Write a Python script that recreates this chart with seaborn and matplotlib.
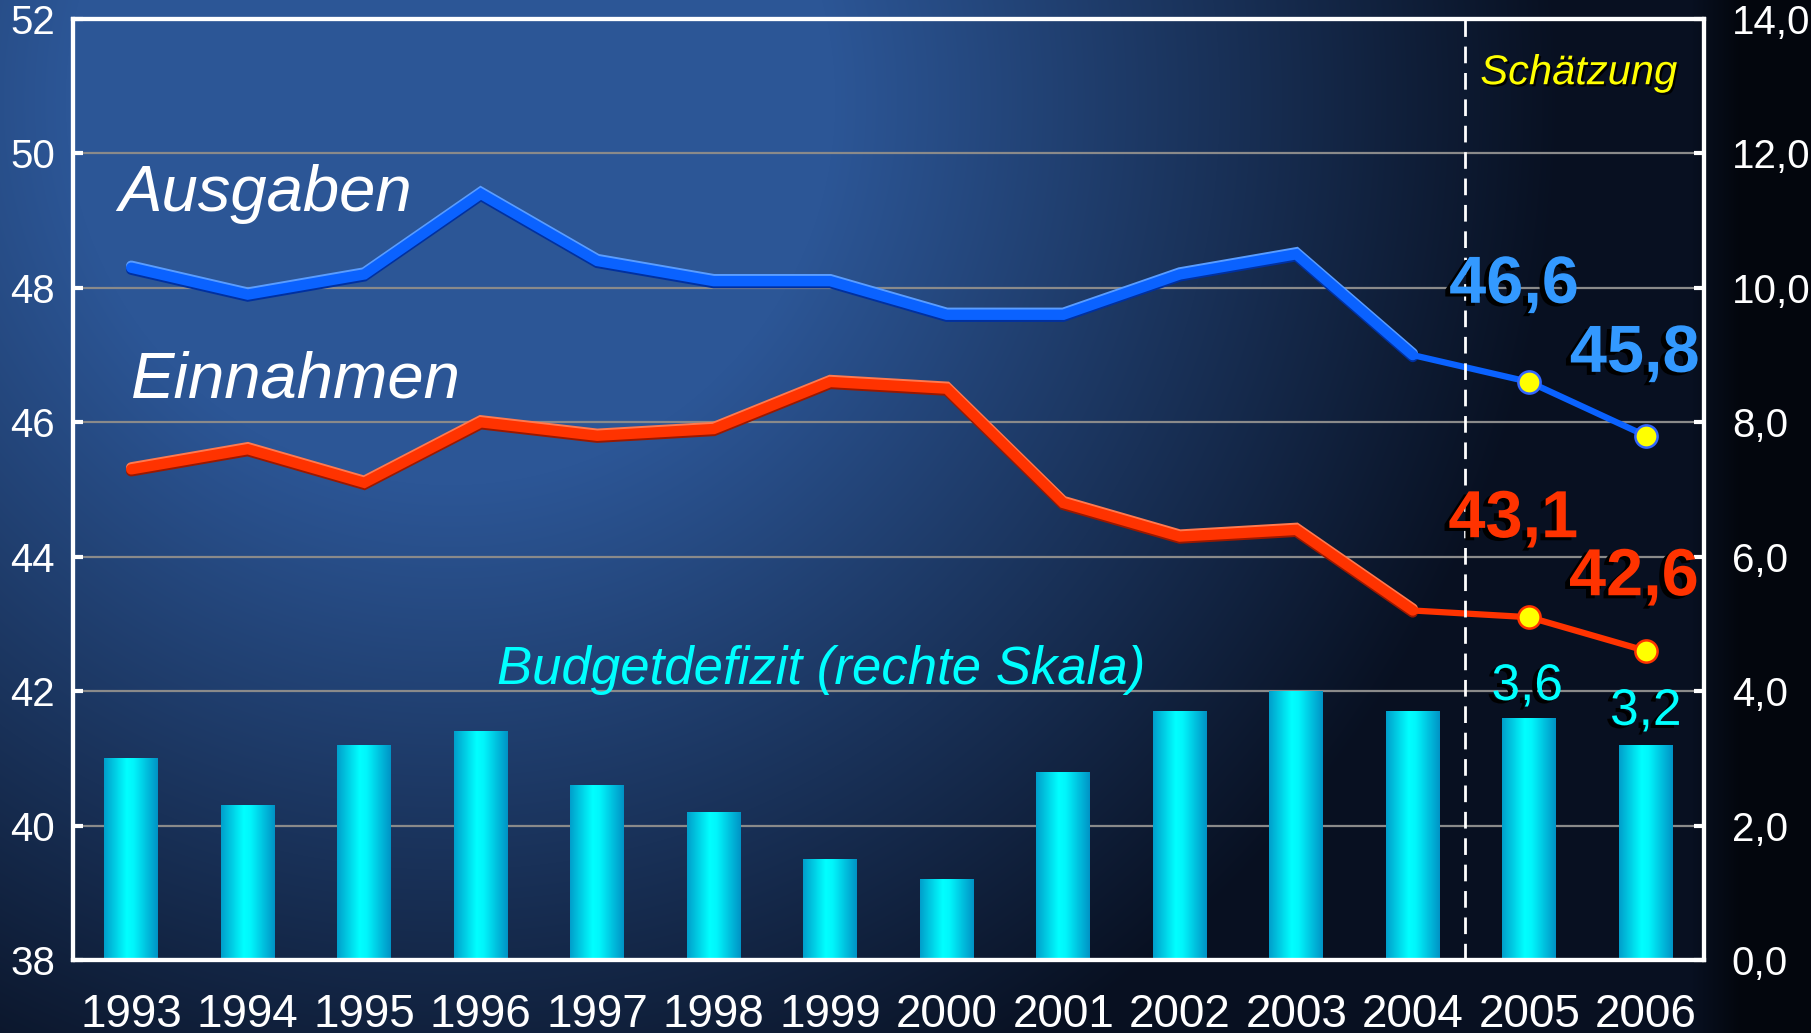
import numpy as np
import matplotlib
matplotlib.use("Agg")
import matplotlib.pyplot as plt
import matplotlib.patheffects as pe
from matplotlib.colors import LinearSegmentedColormap
from matplotlib.ticker import FuncFormatter, MultipleLocator
import seaborn as sns

# --- Data (Staatsausgaben / -einnahmen in % des BIP, Defizit rechte Skala) ---
years = [str(y) for y in range(1993, 2007)]
ausgaben = [48.3, 47.9, 48.2, 49.4, 48.4, 48.1, 48.1, 47.6, 47.6, 48.2, 48.5, 47.0, 46.6, 45.8]
einnahmen = [45.3, 45.6, 45.1, 46.0, 45.8, 45.9, 46.6, 46.5, 44.8, 44.3, 44.4, 43.2, 43.1, 42.6]
defizit = [3.0, 2.3, 3.2, 3.4, 2.6, 2.2, 1.5, 1.2, 2.8, 3.7, 4.0, 3.7, 3.6, 3.2]
n_actual = 12  # 1993-2004 Ist, 2005-2006 Schätzung

BLUE, BLUE_HI, BLUE_LO, BLUE_LBL = "#0a62ff", "#5a9dff", "#0030a0", "#3399ff"
RED, RED_HI, RED_LO = "#ff3300", "#ff7a50", "#9a1800"
CYAN = "#00ffff"


def comma(v):
    return f"{v:.1f}".replace(".", ",")


sns.set_style("dark")
plt.rcParams["font.family"] = ["Liberation Sans", "DejaVu Sans"]

W, H = 1811, 1033
fig = plt.figure(figsize=(W / 100, H / 100), dpi=100)

# background gradient
yy, xx = np.mgrid[0:H, 0:W]
d = np.sqrt(((xx - 450) / 1100.0) ** 2 + ((yy - 100) / 1100.0) ** 2)
f = np.clip(1.5 - 1.43 * d, 0.06, 1.0)
top = np.array([44, 86, 150]) / 255.0
dark = np.array([6, 12, 26]) / 255.0
bg = dark + (top - dark) * f[..., None]
bg *= (1 - 0.6 * np.clip((xx - 1690) / 50.0, 0, 1))[..., None]
bg_ax = fig.add_axes([0, 0, 1, 1], zorder=-5)
bg_ax.imshow(bg, aspect="auto")
bg_ax.axis("off")

ax = fig.add_axes([73 / W, (H - 960) / H, 1631 / W, 941 / H])
ax.set_facecolor("none")

# --- bars (right scale) ---
sns.barplot(x=years, y=defizit, ax=ax, color=CYAN, width=0.46, saturation=1,
            linewidth=0, edgecolor="none")
grad = LinearSegmentedColormap.from_list(
    "bar", [(0, "#00a0cc"), (0.42, "#00ffff"), (0.55, "#00f6fc"), (1, "#0094c6")])
for p in ax.patches:
    x0, y0, w, h = p.get_x(), p.get_y(), p.get_width(), p.get_height()
    im = ax.imshow(np.linspace(0, 1, 64)[None, :], cmap=grad, aspect="auto",
                   extent=[x0, x0 + w, y0, y0 + h], zorder=p.get_zorder() + 0.1)
    im.set_clip_path(p)
ax.set_xlim(-0.5, len(years) - 0.5)
ax.set_ylim(0, 14)
ax.set_xlabel("")
ax.set_ylabel("")

# --- lines (left scale) ---
ax2 = ax.twinx()
ax2.set_facecolor("none")
ax.yaxis.tick_right()
ax2.yaxis.tick_left()

ax.yaxis.set_major_locator(MultipleLocator(2))
ax.yaxis.set_major_formatter(FuncFormatter(lambda v, _: comma(v)))
ax.grid(False)
ax.yaxis.grid(True, color="#8a8a8a", lw=1.6)
ax.set_axisbelow(True)
ax.tick_params(axis="y", direction="in", length=7, width=3, color="white",
               labelcolor="white", labelsize=29, pad=20)
ax.tick_params(axis="x", length=0, labelcolor="white", labelsize=33, pad=24)

xs = np.arange(len(years))
for vals, c, hi, lo in [(ausgaben, BLUE, BLUE_HI, BLUE_LO), (einnahmen, RED, RED_HI, RED_LO)]:
    sns.lineplot(x=xs[:n_actual], y=vals[:n_actual], ax=ax2, color=c, lw=7.5,
                 solid_joinstyle="miter",
                 path_effects=[pe.SimpleLineShadow(offset=(0, 1.4), shadow_color=hi, alpha=1),
                               pe.SimpleLineShadow(offset=(0, -1.4), shadow_color=lo, alpha=1),
                               pe.Normal()])
    sns.lineplot(x=xs[n_actual - 1:], y=vals[n_actual - 1:], ax=ax2, color=c, lw=4.5,
                 marker="o", markevery=[1, 2], markersize=16, markerfacecolor="#ffff00",
                 markeredgecolor=c if c == RED else "#3366ff", markeredgewidth=1.8)
ax2.set_ylim(38, 52)
ax2.yaxis.set_major_locator(MultipleLocator(2))
ax2.tick_params(axis="y", direction="in", length=7, width=3, color="white",
                labelcolor="white", labelsize=29, pad=13)
ax2.set_ylabel("")

ax2.axvline(n_actual - 0.55, color="white", lw=2, dashes=(6, 3.5))

for a in (ax, ax2):
    for s in a.spines.values():
        s.set_color("white")
        s.set_linewidth(3)
        s.set_visible(True)

# --- texts ---
ax2.text(-0.114, 49.14, "Ausgaben", color="white", fontsize=47, style="italic")
ax2.text(0.0, 46.37, "Einnahmen", color="white", fontsize=47, style="italic")
ax2.text(11.58, 51.03, "Schätzung", color="#ffff00", fontsize=30, style="italic",
         path_effects=[pe.withSimplePatchShadow(offset=(1.5, -1.5), shadow_rgbFace="black", alpha=1)])
ax2.text(3.14, 42.1, "Budgetdefizit (rechte Skala)", color=CYAN, fontsize=38, style="italic")

shadow = [pe.withSimplePatchShadow(offset=(-3.5, -2.2), shadow_rgbFace="black", alpha=1)]
lbl_off = {12: ((-11, 57), (-11.5, 57.6), (-1.5, 13)), 13: ((-8, 46), (-8.6, 40), (0, 14.4))}
for i in (12, 13):
    oa, oe, od = lbl_off[i]
    ax2.annotate(comma(ausgaben[i]), (i, ausgaben[i]), xytext=oa, textcoords="offset points",
                 ha="center", va="baseline", fontsize=48, fontweight="bold", color=BLUE_LBL,
                 path_effects=shadow)
    ax2.annotate(comma(einnahmen[i]), (i, einnahmen[i]), xytext=oe, textcoords="offset points",
                 ha="center", va="baseline", fontsize=48, fontweight="bold", color=RED,
                 path_effects=shadow)
    ax.annotate(comma(defizit[i]), (i, defizit[i]), xytext=od, textcoords="offset points",
                ha="center", va="baseline", fontsize=37, color=CYAN, path_effects=shadow)

fig.savefig("out.png", dpi=100)
